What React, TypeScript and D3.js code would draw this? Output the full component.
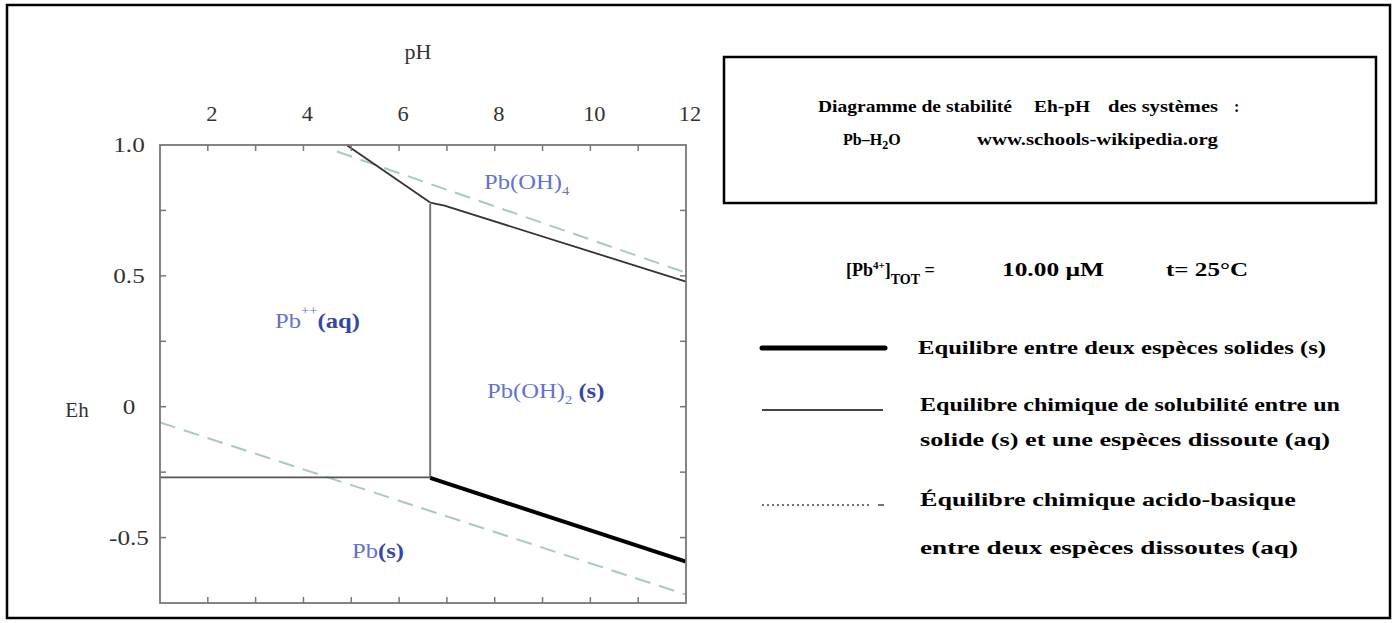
import React from "react";
import * as d3 from "d3";

// Axis ticks
const phTickLabels = [2, 4, 6, 8, 10, 12];
const phMinorTicks = [2, 3, 4, 5, 6, 7, 8, 9, 10, 11];
const ehTickLabels = ["1.0", "0.5", "0", "-0.5"];
const ehMinorTicks = [0.75, 0.5, 0.25, 0, -0.25, -0.5];

// Boundaries [pH, Eh]
const pbAqToPbS: [number, number][] = [[1, -0.27], [6.65, -0.27]];
const pbAqToPbOH2: [number, number][] = [[6.65, -0.27], [6.65, 0.775]];
const pbOH2ToPbS: [number, number][] = [[6.65, -0.272], [12, -0.592]];
const pbAqToPbOH4: [number, number][] = [[4.9, 1.0], [6.65, 0.78]];
const pbOH2ToPbOH4: [number, number][] = [[6.65, 0.78], [6.95, 0.768], [12, 0.478]];
// Water stability limits
const waterUpper: [number, number][] = [[4.7, 0.975], [12, 0.512]];
const waterLower: [number, number][] = [[1, -0.06], [12, -0.718]];

const W = 1397;
const H = 623;
const plot = { left: 160, right: 686, top: 145, bottom: 603 };

const x = d3.scaleLinear().domain([1, 12]).range([plot.left, plot.right]);
const y = d3.scaleLinear().domain([-0.75, 1.0]).range([plot.bottom, plot.top]);
const line = d3
  .line<[number, number]>()
  .x((d) => x(d[0]))
  .y((d) => y(d[1]));

const serif = "'Liberation Serif', 'DejaVu Serif', serif";
const lightBlue = "#6273cf";
const darkBlue = "#3545a8";

// Text drawn with a horizontal stretch around its anchor point
function Wide({ x: tx, y: ty, sx, children, ...rest }: any) {
  return (
    <g transform={`translate(${tx},${ty}) scale(${sx},1)`}>
      <text x={0} y={0} {...rest}>
        {children}
      </text>
    </g>
  );
}

export default function App() {
  return (
    <svg
      width={W}
      height={H}
      style={{ position: "absolute", left: 0, top: 0, display: "block", background: "#fff" }}
      fontFamily={serif}
    >
      <rect x={7} y={5} width={1383} height={613} fill="#fff" stroke="#000" strokeWidth={2.5} />

      <defs>
        <clipPath id="plotClip">
          <rect x={plot.left} y={plot.top} width={plot.right - plot.left} height={plot.bottom - plot.top} />
        </clipPath>
      </defs>

      {/* axis titles */}
      <text x={418} y={59} fontSize={22} textAnchor="middle" fill="#333">pH</text>
      <text x={77} y={417} fontSize={21} textAnchor="middle" fill="#333">Eh</text>

      {/* top tick labels */}
      {phTickLabels.map((t) => (
        <Wide key={t} x={x(t) + 4} y={121} sx={1.12} fontSize={20} textAnchor="middle" fill="#333">
          {t}
        </Wide>
      ))}
      {/* left tick labels */}
      {ehTickLabels.map((t) => (
        <Wide key={t} x={129} y={y(+t) + 7} sx={1.2} fontSize={21} textAnchor="middle" fill="#333">
          {t}
        </Wide>
      ))}

      {/* water limits */}
      <g clipPath="url(#plotClip)" fill="none" stroke="#a9cbb9" strokeWidth={2} strokeDasharray="16,9">
        <path d={line(waterUpper)!} />
        <path d={line(waterLower)!} />
      </g>

      {/* boundaries */}
      <g fill="none" strokeLinejoin="round">
        <path d={line(pbAqToPbS)!} stroke="#555" strokeWidth={1.6} />
        <path d={line(pbAqToPbOH2)!} stroke="#777" strokeWidth={2} />
        <path d={line(pbAqToPbOH4)!} stroke="#333" strokeWidth={1.8} />
        <path d={line(pbOH2ToPbOH4)!} stroke="#333" strokeWidth={1.8} />
        <path d={line(pbOH2ToPbS)!} stroke="#000" strokeWidth={4} />
      </g>

      {/* frame and inward ticks */}
      <rect
        x={plot.left}
        y={plot.top}
        width={plot.right - plot.left}
        height={plot.bottom - plot.top}
        fill="none"
        stroke="#777"
        strokeWidth={1.8}
      />
      <g stroke="#777" strokeWidth={1.5}>
        {phMinorTicks.map((t) => (
          <g key={t}>
            <line x1={x(t)} x2={x(t)} y1={plot.top} y2={plot.top + 6} />
            <line x1={x(t)} x2={x(t)} y1={plot.bottom} y2={plot.bottom - 6} />
          </g>
        ))}
        {ehMinorTicks.map((t) => (
          <g key={t}>
            <line x1={plot.left} x2={plot.left + 6} y1={y(t)} y2={y(t)} />
            <line x1={plot.right} x2={plot.right - 6} y1={y(t)} y2={y(t)} />
          </g>
        ))}
      </g>

      {/* region labels */}
      <Wide x={484} y={189} sx={1.12} fontSize={22} fill={lightBlue}>
        Pb(OH)<tspan fontSize={13} dy={6}>4</tspan>
      </Wide>
      <Wide x={275} y={328} sx={1.12} fontSize={22} fill={lightBlue}>
        Pb<tspan fontSize={13} dy={-13}>++</tspan>
        <tspan dy={13} fill={darkBlue} fontWeight="bold">(aq)</tspan>
      </Wide>
      <Wide x={487} y={398} sx={1.12} fontSize={22} fill={lightBlue}>
        Pb(OH)<tspan fontSize={13} dy={6}>2</tspan>
        <tspan dy={-6} fill={darkBlue} fontWeight="bold"> (s)</tspan>
      </Wide>
      <Wide x={352} y={558} sx={1.12} fontSize={22} fill={lightBlue}>
        Pb<tspan fill={darkBlue} fontWeight="bold">(s)</tspan>
      </Wide>

      {/* title box */}
      <rect x={724} y={57} width={652} height={146} fill="#fff" stroke="#000" strokeWidth={2.5} />
      <g fontSize={16} fontWeight="bold" fill="#000">
        <text x={818} y={112} textLength={194} lengthAdjust="spacingAndGlyphs">Diagramme de stabilité</text>
        <text x={1034} y={112} textLength={56} lengthAdjust="spacingAndGlyphs">Eh-pH</text>
        <text x={1108} y={112} textLength={110} lengthAdjust="spacingAndGlyphs">des systèmes</text>
        <text x={1234} y={112}>:</text>
        <text x={843} y={145}>
          Pb–H<tspan fontSize={12} dy={4}>2</tspan><tspan dy={-4}>O</tspan>
        </text>
        <text x={977} y={145} textLength={241} lengthAdjust="spacingAndGlyphs">www.schools-wikipedia.org</text>
      </g>

      {/* conditions */}
      <g fontSize={18} fontWeight="bold" fill="#000">
        <text x={846} y={276}>
          [Pb<tspan fontSize={11} dy={-7}>4+</tspan><tspan dy={7}>]</tspan>
          <tspan fontSize={14} dy={8}>TOT</tspan>
          <tspan dy={-8}> =</tspan>
        </text>
        <text x={1002} y={276} textLength={102} lengthAdjust="spacingAndGlyphs">10.00 µM</text>
        <text x={1166} y={276} textLength={82} lengthAdjust="spacingAndGlyphs">t= 25°C</text>
      </g>

      {/* legend */}
      <line x1={762} x2={885} y1={348} y2={348} stroke="#000" strokeWidth={5} strokeLinecap="round" />
      <line x1={762} x2={883} y1={410} y2={410} stroke="#444" strokeWidth={2} />
      <line x1={762} x2={870} y1={505} y2={505} stroke="#444" strokeWidth={1.5} strokeDasharray="2,3" />
      <line x1={878} x2={884} y1={505} y2={505} stroke="#444" strokeWidth={1.5} />
      <g fontSize={19} fontWeight="bold" fill="#000">
        <text x={918} y={354} textLength={408} lengthAdjust="spacingAndGlyphs">
          Equilibre entre deux espèces solides (s)
        </text>
        <text x={920} y={411} textLength={420} lengthAdjust="spacingAndGlyphs">
          Equilibre chimique de solubilité entre un
        </text>
        <text x={920} y={446} textLength={410} lengthAdjust="spacingAndGlyphs">
          solide (s) et une espèces dissoute (aq)
        </text>
        <text x={920} y={506} textLength={376} lengthAdjust="spacingAndGlyphs">
          Équilibre chimique acido-basique
        </text>
        <text x={920} y={554} textLength={378} lengthAdjust="spacingAndGlyphs">
          entre deux espèces dissoutes (aq)
        </text>
      </g>
    </svg>
  );
}
